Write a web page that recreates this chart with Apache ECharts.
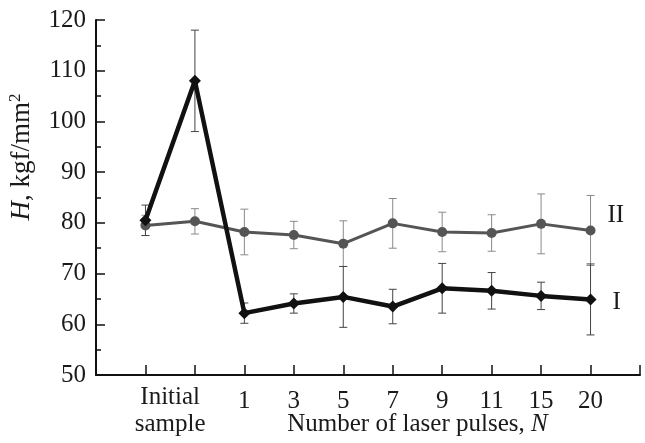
<!DOCTYPE html>
<html><head><meta charset="utf-8">
<script src="https://cdn.jsdelivr.net/npm/echarts@6/dist/echarts.min.js"></script>
<style>html,body{margin:0;padding:0;background:#fff}#c{width:645px;height:443px}</style>
</head><body><div id="c"></div>
<script>
// ---- data ----
const groupLabel = 'Initial\nsample';
const xTitle = 'Number of laser pulses, ';
const xTitleVar = 'N';
const pulseLabels = ['', '', '1', '3', '5', '7', '9', '11', '15', '20'];
const seriesIName = 'I';
const seriesIIName = 'II';
const valuesI = [80.5, 108, 62.2, 64.1, 65.4, 63.5, 67.1, 66.6, 65.6, 64.9];
const errorsI = [3, 10, 2, 1.9, 6, 3.4, 4.9, 3.6, 2.7, 7];
const valuesII = [79.5, 80.3, 78.2, 77.6, 75.9, 79.9, 78.2, 78.0, 79.8, 78.5];
const errorsII = [2, 2.5, 4.5, 2.7, 4.5, 4.9, 3.9, 3.6, 5.9, 6.9];
const yTicks = [50, 60, 70, 80, 90, 100, 110, 120];

const FONT = 'Liberation Serif';
const TXT = '#1a1a1a';
const FS = 25;

const pts = (vals) => vals.map((v, i) => [i + 1, v]);
const errs = (vals, e) => vals.map((v, i) => [i + 1, v - e[i], v + e[i]]);

function errRender(color) {
  return function (params, api) {
    const x = api.value(0);
    const lo = api.coord([x, api.value(1)]);
    const hi = api.coord([x, api.value(2)]);
    const w = 4;
    const st = { stroke: color, lineWidth: 1 };
    return { type: 'group', children: [
      { type: 'line', shape: { x1: lo[0], y1: lo[1], x2: hi[0], y2: hi[1] }, style: st },
      { type: 'line', shape: { x1: lo[0] - w, y1: lo[1], x2: lo[0] + w, y2: lo[1] }, style: st },
      { type: 'line', shape: { x1: hi[0] - w, y1: hi[1], x2: hi[0] + w, y2: hi[1] }, style: st }
    ]};
  };
}

const chart = echarts.init(document.getElementById('c'), null, { renderer: 'canvas' });
chart.setOption({
  animation: false,
  backgroundColor: '#fff',
  textStyle: { fontFamily: FONT },
  grid: { left: 96, right: 5, top: 20, bottom: 68, containLabel: false },
  xAxis: [{
    type: 'value', min: 0, max: pulseLabels.length + 1, interval: 1,
    axisLine: { show: true, lineStyle: { color: '#111', width: 2 } },
    axisTick: { show: true, inside: true, length: 10, lineStyle: { color: '#111', width: 1.5 } },
    splitLine: { show: false },
    axisLabel: { show: true, margin: 14, fontFamily: FONT, fontSize: FS, color: TXT,
      showMinLabel: true, showMaxLabel: true,
      formatter: (v) => (v >= 1 && v <= pulseLabels.length) ? pulseLabels[Math.round(v) - 1] : '' }
  }, {
    type: 'value', position: 'bottom', min: 0, max: pulseLabels.length + 1, interval: 0.5,
    axisLine: { show: false }, axisTick: { show: false }, splitLine: { show: false },
    axisLabel: { show: true, margin: 9, fontFamily: FONT, fontSize: FS, color: TXT, lineHeight: 27,
      showMinLabel: true, showMaxLabel: true,
      formatter: (v) => {
        if (Math.abs(v - 1.5) < 1e-6) return groupLabel;
        if (Math.abs(v - 6.5) < 1e-6) return '{n| }\n{n|' + xTitle + '}{i|' + xTitleVar + '}';
        return '';
      },
      rich: {
        n: { fontFamily: FONT, fontSize: FS, color: TXT, lineHeight: 27 },
        i: { fontFamily: FONT, fontSize: FS, color: TXT, fontStyle: 'italic', lineHeight: 27 }
      }
    }
  }],
  yAxis: {
    type: 'value', min: yTicks[0], max: yTicks[yTicks.length - 1], interval: 10,
    axisLine: { show: true, lineStyle: { color: '#111', width: 2 } },
    axisTick: { show: true, inside: true, length: 9, lineStyle: { color: '#111', width: 1.5 } },
    minorTick: { show: true, splitNumber: 2, length: 5, lineStyle: { color: '#111', width: 1.5 } },
    splitLine: { show: false },
    axisLabel: { margin: 10, fontFamily: FONT, fontSize: FS, color: TXT }
  },
  graphic: [{
    type: 'text', x: 22, y: 157, rotation: Math.PI / 2,
    style: {
      text: '{i|H}{n|, kgf/mm}{s|2}',
      align: 'center', verticalAlign: 'middle',
      rich: {
        i: { fontFamily: FONT, fontSize: 27, fontStyle: 'italic', fill: TXT },
        n: { fontFamily: FONT, fontSize: 27, fill: TXT },
        s: { fontFamily: FONT, fontSize: 17, fill: TXT, verticalAlign: 'top', padding: [0, 0, 12, 0] }
      }
    }
  }],
  series: [
    { type: 'custom', name: 'errII', renderItem: errRender('#8a8a8a'), data: errs(valuesII, errorsII), z: 1, silent: true },
    { type: 'custom', name: 'errI', renderItem: errRender('#444'), data: errs(valuesI, errorsI), z: 1, silent: true },
    {
      type: 'line', name: seriesIIName, data: pts(valuesII), z: 3,
      symbol: 'circle', symbolSize: 10,
      lineStyle: { color: '#555', width: 3 }, itemStyle: { color: '#555' },
      endLabel: { show: true, formatter: seriesIIName, distance: 17, offset: [0, -15], fontFamily: FONT, fontSize: FS, color: TXT }
    },
    {
      type: 'line', name: seriesIName, data: pts(valuesI), z: 4,
      symbol: 'diamond', symbolSize: 12,
      lineStyle: { color: '#111', width: 4.5 }, itemStyle: { color: '#111' },
      endLabel: { show: true, formatter: seriesIName, distance: 22, offset: [0, 3], fontFamily: FONT, fontSize: FS, color: TXT }
    }
  ]
});
</script></body></html>
